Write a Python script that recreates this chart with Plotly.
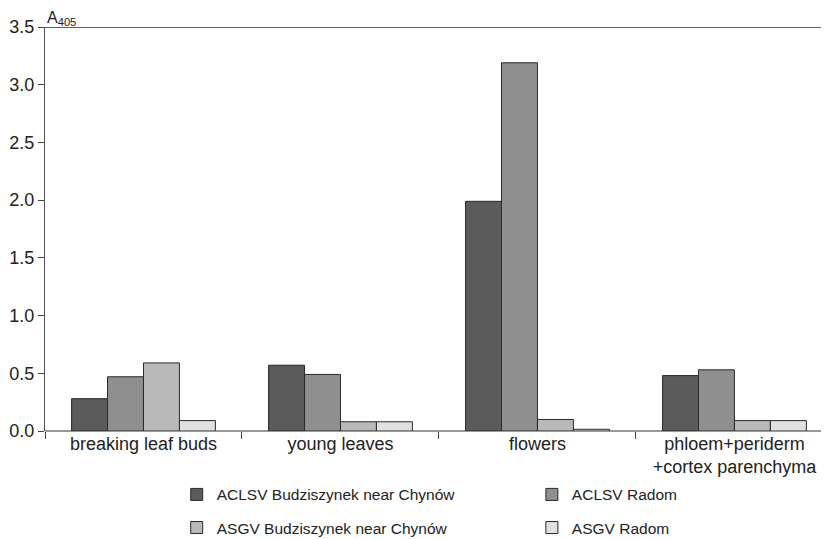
import plotly.graph_objects as go

categories = ["breaking leaf buds", "young leaves", "flowers", "phloem+periderm<br>+cortex parenchyma"]
series_names = ["ACLSV Budziszynek near Chynów", "ACLSV Radom",
                "ASGV Budziszynek near Chynów", "ASGV Radom"]
aclsv_budz = [0.28, 0.57, 1.99, 0.48]
aclsv_radom = [0.47, 0.49, 3.19, 0.53]
asgv_budz = [0.59, 0.08, 0.10, 0.09]
asgv_radom = [0.09, 0.08, 0.015, 0.09]
y_ticks = [0.0, 0.5, 1.0, 1.5, 2.0, 2.5, 3.0, 3.5]

series_values = [aclsv_budz, aclsv_radom, asgv_budz, asgv_radom]
colors = ["#5b5b5b", "#8f8f8f", "#b9b9b9", "#e1e1e1"]
legend_ids = ["legend", "legend2", "legend3", "legend4"]
legend_x = [0.168, 0.621, 0.168, 0.621]
legend_y = [-0.158, -0.158, -0.24, -0.24]

FONT = "Liberation Sans, Arial, sans-serif"

fig = go.Figure()
for name, vals, col, lg in zip(series_names, series_values, colors, legend_ids):
    fig.add_trace(go.Bar(
        x=categories, y=vals, name=name, legend=lg, showlegend=True,
        marker=dict(color=col, line=dict(color="#2a2a2a", width=1)),
    ))

legend_layout = {}
for lg, lx, ly in zip(legend_ids, legend_x, legend_y):
    legend_layout[lg] = dict(
        orientation="v", x=lx, xanchor="left", y=ly, yanchor="middle",
        font=dict(size=15.5, color="#222"), bgcolor="rgba(0,0,0,0)",
        borderwidth=0,
    )

# page body has an 8px margin, so the figure is 8px smaller than the window
fig.update_layout(
    width=821, height=531,
    margin=dict(l=37, r=0, t=19, b=108, autoexpand=False),
    showlegend=True,
    paper_bgcolor="white", plot_bgcolor="white",
    barmode="group", bargap=0.27, bargroupgap=0,
    font=dict(family=FONT, size=15, color="#222"),
    xaxis=dict(
        type="category", range=[-0.5, 3.48],
        tickson="boundaries", ticks="outside", ticklen=7, tickcolor="#444",
        tickwidth=1, showline=False, showgrid=False, zeroline=False,
        tickfont=dict(size=18, color="#222"),
    ),
    yaxis=dict(
        range=[0, 3.5], tickvals=y_ticks, tickformat=".1f",
        ticks="outside", ticklen=6, tickcolor="#444", tickwidth=1,
        showline=True, linecolor="#555", linewidth=1,
        showgrid=False, zeroline=True, zerolinecolor="#999", zerolinewidth=1.5,
        tickfont=dict(size=18, color="#222"),
    ),
    shapes=[
        dict(type="line", xref="paper", yref="y", x0=0, x1=1, y0=3.5, y1=3.5,
             line=dict(color="#2a2a2a", width=1.5)),
    ],
    annotations=[
        dict(text="A<sub>405</sub>", xref="paper", yref="paper", x=0.0, y=1.0,
             xanchor="left", yanchor="bottom", yshift=-3, showarrow=False,
             font=dict(size=16, color="#222")),
    ],
    **legend_layout,
)

fig.write_html("out.html")
